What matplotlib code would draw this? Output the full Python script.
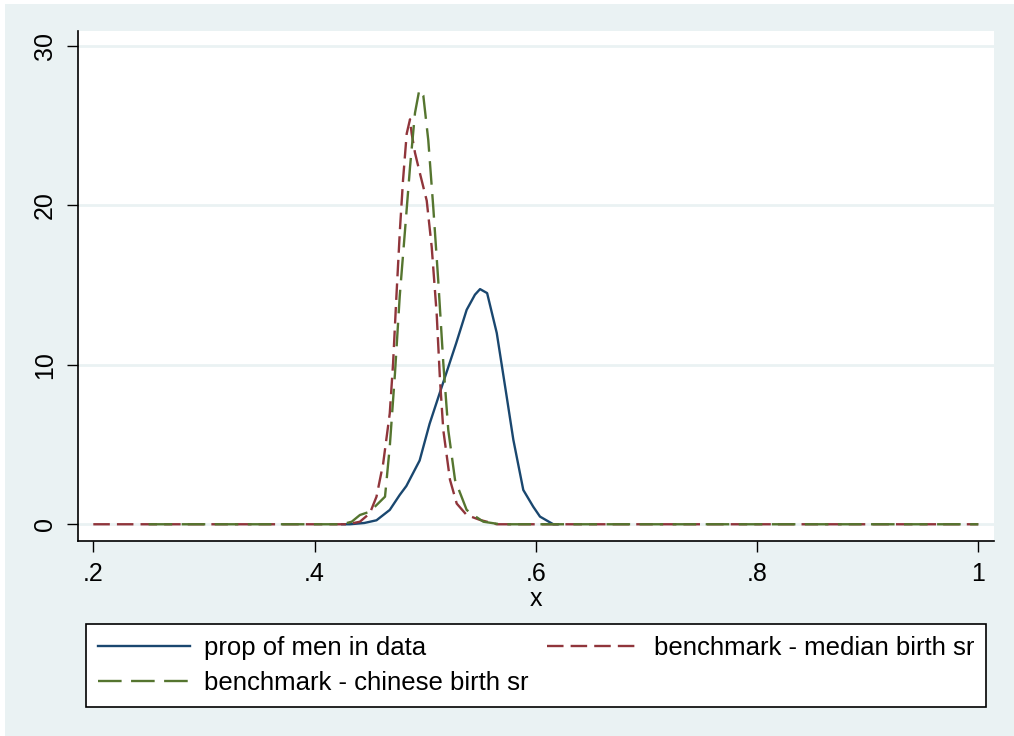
import numpy as np
import matplotlib.pyplot as plt
from matplotlib.patches import Rectangle

plt.rcParams['font.family'] = ['Liberation Sans', 'DejaVu Sans']

#------ Datos (densidades kernel) --------------------------
x_men = [0.425, 0.432, 0.445, 0.456, 0.468, 0.477, 0.483, 0.495, 0.504, 0.513,
         0.528, 0.5375, 0.545, 0.5496, 0.556, 0.5647, 0.5737, 0.5797, 0.5887,
         0.5977, 0.6038, 0.6158, 0.62]
y_men = [0.0, 0.0, 0.08, 0.25, 0.9, 1.84, 2.4, 4.0, 6.3, 8.2,
         11.35, 13.45, 14.4, 14.75, 14.5, 12.0, 8.0, 5.3, 2.15,
         1.1, 0.48, 0.0, 0.0]

x_med = [0.2, 0.43, 0.441, 0.450, 0.456, 0.462, 0.468, 0.471, 0.474, 0.4772,
         0.480, 0.4833, 0.4863, 0.4878, 0.4908, 0.4953, 0.5014, 0.5059, 0.5104,
         0.5134, 0.5164, 0.5224, 0.5285, 0.5375, 0.5496, 0.5647, 1.0]
y_med = [0.0, 0.0, 0.16, 0.69, 1.73, 3.8, 6.96, 10.1, 14.3, 18.5,
         21.6, 24.5, 25.4, 24.5, 23.3, 22.0, 20.3, 17.4, 13.2,
         9.05, 5.9, 2.8, 1.3, 0.58, 0.27, 0.0, 0.0]

x_chn = [0.25, 0.425, 0.4336, 0.441, 0.450, 0.4637, 0.468, 0.4727, 0.477, 0.4818,
         0.4863, 0.4908, 0.4947, 0.4983, 0.5028, 0.5073, 0.5118, 0.5164, 0.5209,
         0.527, 0.5375, 0.5435, 0.5526, 0.5677, 1.0]
y_chn = [0.0, 0.0, 0.16, 0.58, 0.79, 1.73, 4.87, 9.47, 14.3, 18.46,
         22.4, 25.8, 27.25, 26.9, 24.1, 19.9, 15.3, 10.1, 5.9,
         2.78, 0.9, 0.58, 0.16, 0.0, 0.0]

xticks      = [0.2, 0.4, 0.6, 0.8, 1.0]
xticklabels = ['.2', '.4', '.6', '.8', '1']
yticks      = [0, 10, 20, 30]

labels = ['prop of men in data', 'benchmark - median birth sr', 'benchmark - chinese birth sr']

#------ Figura -------
fondo = '#EAF2F3'
fig = plt.figure(figsize=(10.14, 7.36), dpi=100, facecolor='white')
fig.patches.append(Rectangle((5/1014, 0), 1 - 5/1014, 1 - 4/736, transform=fig.transFigure,
                             facecolor=fondo, edgecolor='none', zorder=-10))

ax = fig.add_axes([77.7/1014, (736-541)/736, (994-77.7)/1014, (541-31)/736])
ax.set_facecolor('white')

l1, = ax.plot(x_men, y_men, color='#1A476F', lw=1.7, label=labels[0])
l2, = ax.plot(x_med, y_med, color='#90353B', lw=1.7, dashes=(7, 3), label=labels[1])
l3, = ax.plot(x_chn, y_chn, color='#55752F', lw=1.7, dashes=(10, 4), label=labels[2])

ax.set_xlim(0.1859, 1.0142)
ax.set_ylim(-1.05, 30.94)
ax.set_xticks(xticks)
ax.set_xticklabels(xticklabels)
ax.set_yticks(yticks)
ax.set_yticklabels([str(v) for v in yticks], rotation=90, va='center')

ax.grid(axis='y', color=fondo, lw=2)
ax.set_axisbelow(True)
for s in ['top', 'right']:
    ax.spines[s].set_visible(False)
for s in ['left', 'bottom']:
    ax.spines[s].set_linewidth(1.2)
ax.tick_params(axis='both', length=8, width=1, labelsize=18, pad=7)
ax.set_xlabel('x', fontsize=18, labelpad=1)

leg = fig.legend([l1, l3, l2], [labels[0], labels[2], labels[1]], ncol=2,
                 loc='upper left', bbox_to_anchor=(86/1014, 1 - 708/736, (986-86)/1014, 84/736),
                 mode='expand', borderaxespad=0, fontsize=18.5, handlelength=3.6,
                 handletextpad=0.55, labelspacing=0.45, borderpad=0.45,
                 frameon=True, fancybox=False, shadow=False, framealpha=1)
leg.get_frame().set_edgecolor('black')
leg.get_frame().set_facecolor('white')
leg.get_frame().set_linewidth(1.2)

fig.savefig('out.png', dpi=100, facecolor=fig.get_facecolor())
